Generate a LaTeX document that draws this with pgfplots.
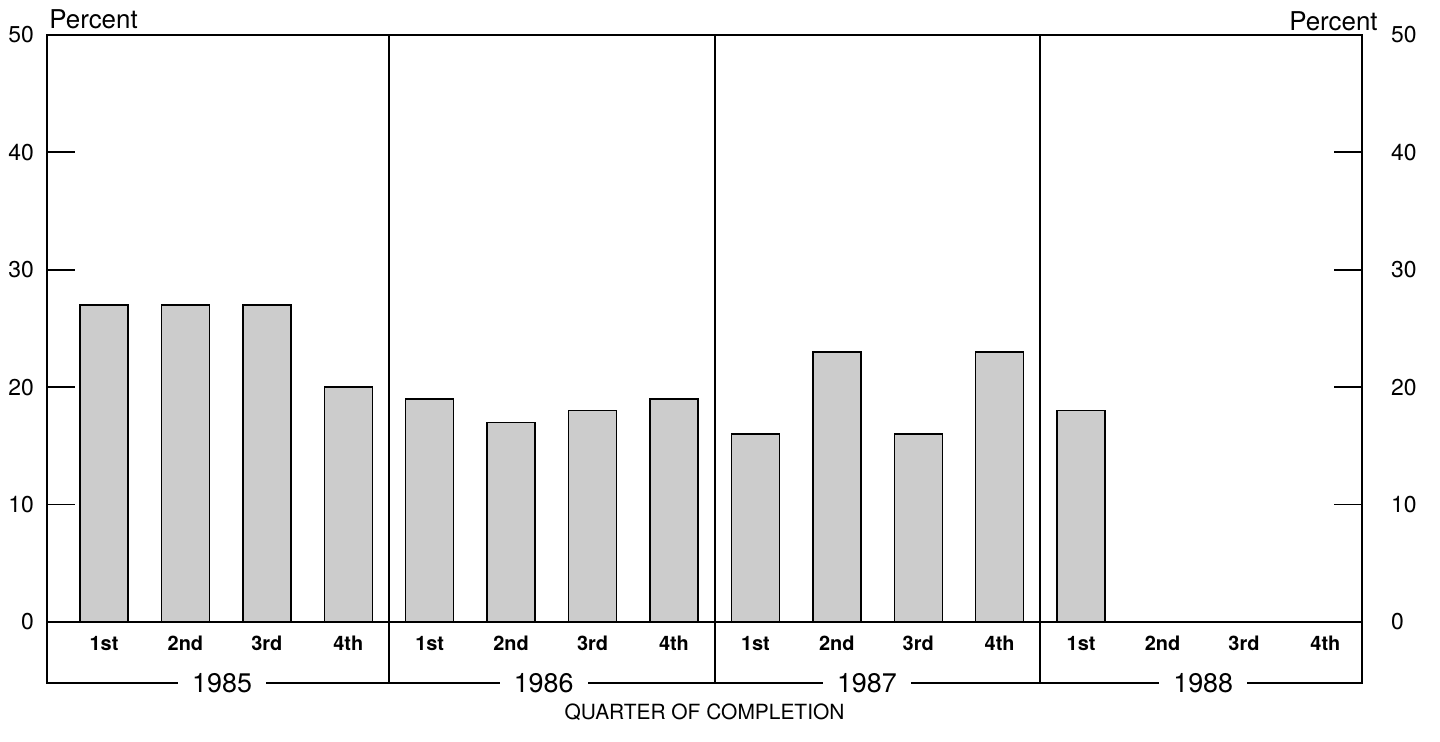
\documentclass[border=0pt]{standalone}
\usepackage{fontspec}
\setmainfont{TeX Gyre Heros}
\usepackage{pgfplots}
\pgfplotsset{compat=1.18}

\definecolor{barfill}{gray}{0.8}

\begin{document}
\begin{tikzpicture}
% main axis: bars, left labels, ticks on both sides
\begin{axis}[
    scale only axis,
    width=657.5bp, height=324bp,
    xmin=-0.7, xmax=15.45,
    ymin=-5.2, ymax=50,
    axis line style={line width=0.9bp},
    xtick={0,...,15},
    xticklabels={1st,2nd,3rd,4th,1st,2nd,3rd,4th,1st,2nd,3rd,4th,1st,2nd,3rd,4th},
    x tick style={draw=none},
    xticklabel style={font=\fontsize{10}{12}\selectfont\bfseries, yshift=27bp},
    ytick={10,20,30,40},
    extra y ticks={0,50},
    extra y tick style={major tick length=0pt},
    ytick pos=both,
    yticklabel pos=left,
    tick align=inside,
    major tick length=14bp,
    y tick style={line width=0.9bp, black},
    yticklabel style={font=\fontsize{11.5}{13}\selectfont, xshift=-3bp},
    /pgf/number format/assume math mode=true,
    clip=false,
]
\addplot[ybar, bar width=0.59, fill=barfill, draw=black, line width=0.7bp] coordinates {
    (0,27) (1,27) (2,27) (3,20)
    (4,19) (5,17) (6,18) (7,19)
    (8,16) (9,23) (10,16) (11,23)
    (12,18)
};

% zero line and year separators
\draw[line width=0.9bp] (axis cs:-0.7,0) -- (axis cs:15.45,0);
\draw[line width=0.9bp] (axis cs:3.5,-5.2) -- (axis cs:3.5,50);
\draw[line width=0.9bp] (axis cs:7.5,-5.2) -- (axis cs:7.5,50);
\draw[line width=0.9bp] (axis cs:11.5,-5.2) -- (axis cs:11.5,50);

\coordinate (y85) at (axis cs:1.45,-5.2);
\coordinate (y86) at (axis cs:5.4,-5.2);
\coordinate (y87) at (axis cs:9.37,-5.2);
\coordinate (y88) at (axis cs:13.5,-5.2);
\end{axis}

% right-hand labels
\begin{axis}[
    scale only axis,
    width=657.5bp, height=324bp,
    xmin=-0.7, xmax=15.45,
    ymin=-5.2, ymax=50,
    axis x line=none,
    axis y line*=right,
    axis line style={line width=0.9bp},
    ytick={0,10,...,50},
    major tick length=0pt,
    yticklabel style={font=\fontsize{11.5}{13}\selectfont, xshift=11bp},
    /pgf/number format/assume math mode=true,
]
\end{axis}

\foreach \c/\t in {y85/1985,y86/1986,y87/1987,y88/1988}
  \node[fill=white, inner xsep=7bp, inner ysep=1bp, font=\fontsize{13.5}{15}\selectfont] at (\c) {\t};

\node[anchor=base west, inner sep=0pt, font=\fontsize{13}{15}\selectfont] at (1bp,327bp) {Percent};
\node[anchor=base east, inner sep=0pt, font=\fontsize{13}{15}\selectfont] at (665.5bp,326bp) {Percent};
\node[font=\fontsize{10.5}{12}\selectfont] at (328.75bp,-14.5bp) {QUARTER OF COMPLETION};

\pgfresetboundingbox
\path[use as bounding box] (-23.5bp,-29.5bp) rectangle (696.5bp,341.5bp);
\end{tikzpicture}
\end{document}
